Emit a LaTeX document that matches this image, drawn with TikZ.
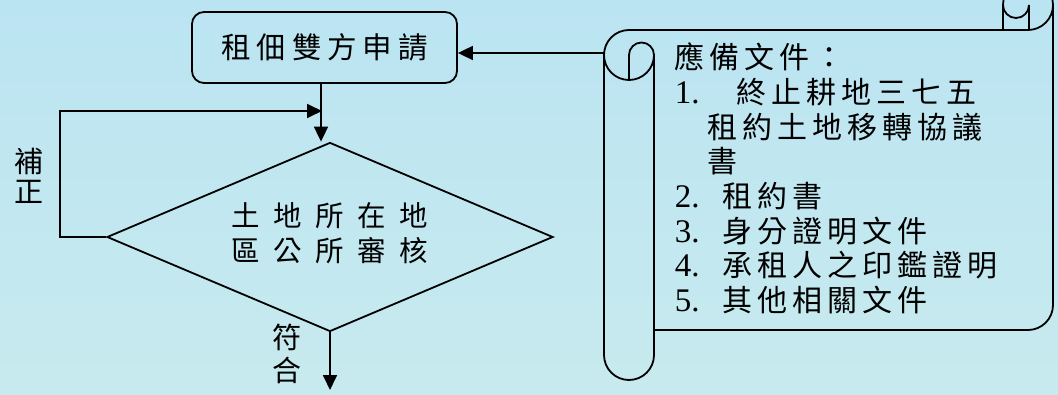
\documentclass[tikz,border=0pt]{standalone}
\usepackage{fontspec}
\setmainfont{Liberation Serif}
\newfontfamily\cjk{Noto Sans CJK TC}
\usetikzlibrary{shapes.geometric,arrows.meta}
\definecolor{bgtop}{RGB}{187,228,242}
\definecolor{bgbot}{RGB}{199,234,238}
\newlength\lsgap
\makeatletter
\newcommand\ls[2]{\setlength\lsgap{#1}\ls@a#2\relax\relax}
\def\ls@a#1#2{#1\ifx\relax#2\else\kern\lsgap\expandafter\ls@a\expandafter#2\fi}
\makeatother
\newcommand\dg[1]{{\rmfamily\fontsize{33}{34.7}\selectfont #1}}
\begin{document}
\begin{tikzpicture}[x=1pt,y=1pt,line width=1.8pt,
  arr/.style={-{Triangle[length=15pt,width=14pt]}},
  box/.style={draw,rounded corners=12pt,minimum width=265pt,minimum height=71pt,inner sep=0pt,
    font=\cjk\fontsize{29.5}{32}\selectfont},
  dia/.style={draw,diamond,aspect=2.36,minimum width=446pt,minimum height=189pt,inner sep=0pt,
    font=\cjk\fontsize{28.5}{35}\selectfont},
  lbl/.style={inner sep=0pt,align=center},
  doc/.style={inner sep=0pt,align=left,font=\cjk\fontsize{30}{34.7}\selectfont}]
\useasboundingbox (0,0) rectangle (1058,394);
\shade[top color=bgtop,bottom color=bgbot] (0,0) rectangle (1058,394);
\clip (0,0) rectangle (1058,394);
% flow
\node[box] (app) at (324.5,346.5) {\ls{5.8pt}{租佃雙方申請}};
\node[dia] (chk) at (330,157) {\raisebox{6pt}{\begin{tabular}{@{}c@{}}\ls{13.5pt}{土地所在地}\\\ls{13.5pt}{區公所審核}\end{tabular}}};
\coordinate (jx) at (321,283);
\coordinate (j) at (322,283);
\coordinate (out) at (328,4);
\draw[arr] (app.south -| jx) -- (jx |- chk.north);
\draw[arr] (chk.west) -- ++(-46,0) |- (j);
\draw[arr] (chk.south) -- (chk.south |- out);
\node[lbl,font=\cjk\fontsize{29}{30}\selectfont] (fix) at (29,218.5) {補\\正};
\node[lbl,font=\cjk\fontsize{29}{33}\selectfont] (ok) at (287,40) {符\\合};
% scroll
\draw (629,364) arc[start angle=90,end angle=360,radius=25];
\draw (629,314) -- (629,339) arc[start angle=180,end angle=0,radius=12.5] -- (654,39)
      arc[start angle=0,end angle=-180,radius=25] -- (604,339);
\draw (629,364) -- (1028,364) arc[start angle=-90,end angle=180,radius=25] -- (1003,364);
\draw (1003,389) arc[start angle=180,end angle=360,radius=13] -- (1029,364);
\draw (1053,389) -- (1053,89) arc[start angle=0,end angle=-90,radius=25] -- (654,64);
\coordinate (sl) at (604,341);
\draw[arr] (sl) -- (app.east |- sl);
\node[doc,anchor=north west] (docs) at (674,352) {%
\ls{5pt}{應備文件：}\\
\makebox[62pt][l]{\dg{1.}}\ls{5pt}{終止耕地三七五}\\
\hspace*{33pt}\ls{5pt}{租約土地移轉協議}\\
\hspace*{33pt}書\\
\makebox[48pt][l]{\dg{2.}}\ls{5pt}{租約書}\\
\makebox[48pt][l]{\dg{3.}}\ls{5pt}{身分證明文件}\\
\makebox[48pt][l]{\dg{4.}}\ls{5pt}{承租人之印鑑證明}\\
\makebox[48pt][l]{\dg{5.}}\ls{5pt}{其他相關文件}};
\end{tikzpicture}
\end{document}
